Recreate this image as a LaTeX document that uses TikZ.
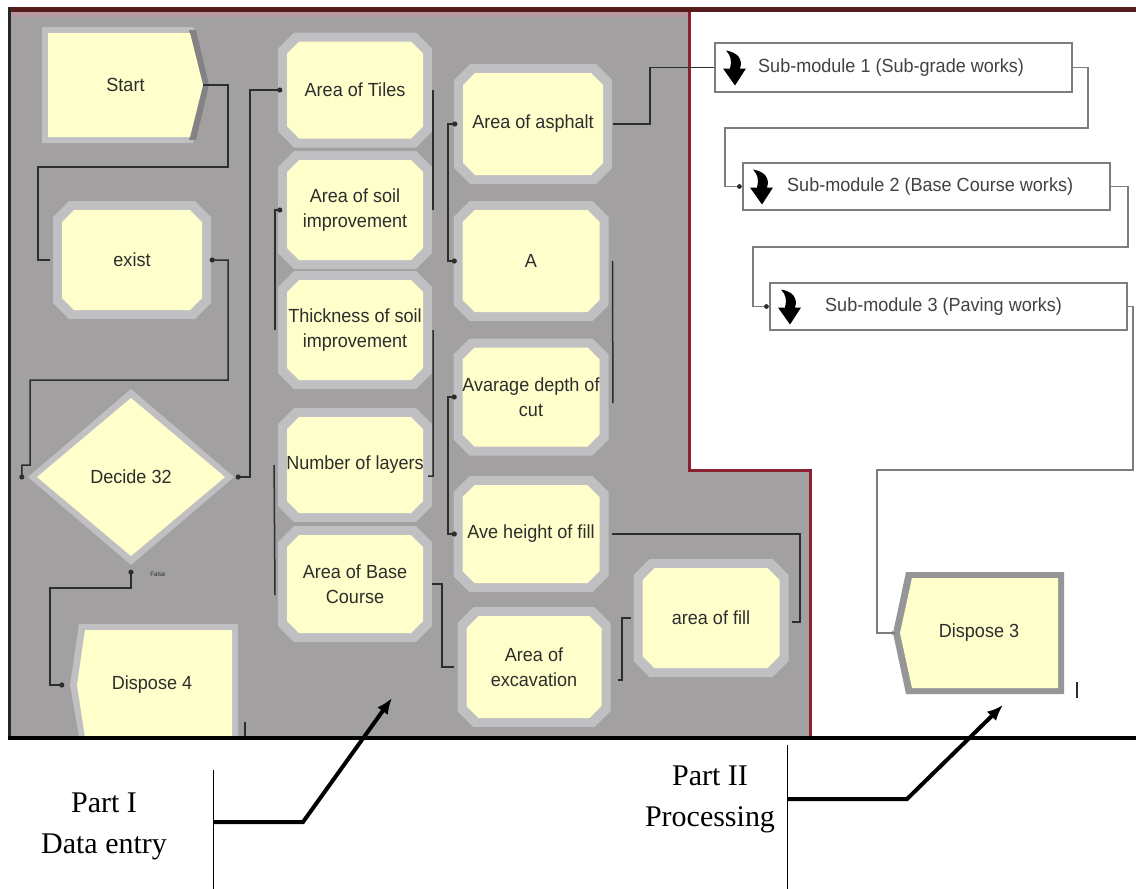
\documentclass[tikz,border=0pt]{standalone}
\usepackage{fontspec}
\usetikzlibrary{arrows.meta}
\newfontfamily\arenafont{Liberation Sans}[FakeStretch=0.95]
\newfontfamily\capfont{Liberation Serif}
\definecolor{panel}{RGB}{163,160,162}
\definecolor{rim}{RGB}{192,191,194}
\definecolor{rimdark}{RGB}{132,130,133}
\definecolor{yel}{RGB}{255,255,203}
\definecolor{ink}{RGB}{45,45,45}
\definecolor{maroon}{RGB}{140,32,48}
\definecolor{topband}{RGB}{85,28,30}
\definecolor{pinkband}{RGB}{186,152,162}
\definecolor{wiregray}{RGB}{125,125,125}
\definecolor{disprim}{RGB}{150,150,152}

% octagon fill: style, cx, cy, half width, half height, chamfer
\newcommand\octfill[6]{%
  \fill[#1] ({#2-(#4)+#6},{#3-(#5)}) -- ({#2+(#4)-#6},{#3-(#5)}) -- ({#2+(#4)},{#3-(#5)+#6})
    -- ({#2+(#4)},{#3+(#5)-#6}) -- ({#2+(#4)-#6},{#3+(#5)}) -- ({#2-(#4)+#6},{#3+(#5)})
    -- ({#2-(#4)},{#3+(#5)-#6}) -- ({#2-(#4)},{#3-(#5)+#6}) -- cycle;}
% process module: name, cx, cy, width, height, label
\newcommand\proc[6]{%
  \octfill{rim}{#2}{#3}{#4/2+9}{#5/2+9}{16}
  \octfill{yel}{#2}{#3}{#4/2}{#5/2}{12}
  \node[lbl, minimum width=#4pt, minimum height=#5pt] (#1) at (#2,#3) {#6};}

\tikzset{
  subicon/.pic={
    \fill[black] (-8,-17) .. controls (4,-15) and (9,-8) .. (6,1) -- (12,1) -- (1,18) -- (-11,1)
      -- (-4,1) .. controls (-2,-6) and (-3,-12) .. (-8,-17) -- cycle;
  }
}

\begin{document}
\begin{tikzpicture}[x=1pt,y=-1pt,
  lbl/.style={font=\arenafont\fontsize{19}{25}\selectfont, text=ink, align=center, inner sep=0pt},
  link/.style={draw=ink, line width=1.5pt},
  wire/.style={draw=wiregray, line width=1.1pt},
  pointer/.style={line width=4pt, line join=miter, -{Latex[length=16pt,width=13pt]}},
  parttext/.style={font=\capfont\fontsize{30}{41}\selectfont, align=center, inner sep=0pt},
  subbox/.style={draw=wiregray, line width=1.2pt, fill=white, inner sep=0pt},
  sublbl/.style={font=\arenafont\fontsize{19}{22}\selectfont, text=ink!90, anchor=west, inner sep=0pt}]
\useasboundingbox (0,0) rectangle (1136,889);
\fill[white] (0,0) rectangle (1136,889);

% ---- data entry panel ----
\fill[panel] (10,12) -- (689,12) -- (689,470) -- (810,470) -- (810,738) -- (10,738) -- cycle;
\fill[pinkband] (10,12) rectangle (689,17);
\fill[topband] (8,7) rectangle (1136,12);
\fill[black!85] (8,7) rectangle (11,740);
\draw[maroon, line width=3pt] (689,12) -- (689,470) -- (810,470) -- (810,738);

% Start (create module)
\fill[rim] (42,27) -- (193,27) -- (209,85) -- (193,143) -- (42,143) -- cycle;
\fill[rimdark] (189,30) -- (196,30) -- (209,85) -- (196,140) -- (189,140) -- (202,85) -- cycle;
\fill[yel] (48,33) -- (190,33) -- (203,85) -- (190,137) -- (48,137) -- cycle;
\node[lbl, minimum width=155pt, minimum height=104pt] (start) at (125.5,85) {Start};

% Decide
\fill[rim] (28,477) -- (131,389) -- (234,477) -- (131,565) -- cycle;
\fill[yel] (37,477) -- (131,398) -- (225,477) -- (131,556) -- cycle;
\node[lbl, minimum width=188pt, minimum height=158pt] (decide) at (131,477) {Decide 32};
\node[font=\arenafont\fontsize{6.5}{7}\selectfont, text=ink, inner sep=0pt] (falselbl) at (158,574) {False};

% Dispose 4
\fill[rim] (79,624) -- (238,624) -- (238,737) -- (79,737) -- (70,685) -- cycle;
\fill[yel] (85,630) -- (232,630) -- (232,737) -- (85,737) -- (77,685) -- cycle;
\node[lbl, minimum width=150pt, minimum height=110pt] (d4) at (152,685) {Dispose 4};

% process modules
\proc{exist}{132}{260}{140}{100}{exist}
\proc{tiles}{355}{90}{136}{97}{Area of Tiles}
\proc{soil}{355}{210}{136}{100}{Area of soil\\improvement}
\proc{thick}{355}{330}{136}{100}{Thickness of soil\\improvement}
\proc{layers}{355}{465}{136}{96}{Number of layers}
\proc{base}{355}{584}{136}{98}{Area of Base\\Course}
\proc{asph}{533}{124}{140}{102}{Area of asphalt}
\proc{A}{531}{261}{137}{102}{A}
\proc{depth}{531}{397}{137}{99}{Avarage depth of\\cut}
\proc{fillh}{531}{534}{137}{98}{Ave height of fill}
\proc{exc}{534}{667}{135}{102}{Area of\\excavation}
\proc{afill}{711}{618}{137}{100}{area of fill}

% connectors of the data entry part
\draw[link] (start.east) -- (228,85) -- (228,167) -- (38,167) -- (38,260) -- ([xshift=-12pt]exist.west);
\draw[link] ([xshift=10pt]exist.east) -- (228,260) -- (228,380) -- (30,380) -- (30,465) -- (22,465) -- ([xshift=-15pt]decide.west);
\fill[ink] ([xshift=10pt]exist.east) circle (2.6);
\fill[ink] ([xshift=-15pt]decide.west) circle (2.6);
\draw[link] ([xshift=13pt]decide.east) -- (250,477) -- (250,90) -- ([xshift=-7pt]tiles.west);
\fill[ink] ([xshift=13pt]decide.east) circle (2.6);
\fill[ink] ([xshift=-7pt]tiles.west) circle (2.6);
\draw[link] ([yshift=-16pt]decide.south) -- (131,588) -- (50,588) -- (50,685) -- ([xshift=-15pt]d4.west);
\fill[ink] ([yshift=-16pt]decide.south) circle (2.6);
\fill[ink] ([xshift=-15pt]d4.west) circle (2.6);

\draw[link] ([xshift=-7pt]soil.west) -- (275,210) -- (275,330);
\fill[ink] ([xshift=-7pt]soil.west) circle (2.6);
\draw[link] ([xshift=-12pt]layers.west) -- (275,595);
\draw[link] ([xshift=10pt]tiles.east) -- ([xshift=10pt]soil.east);
\draw[link] ([xshift=10pt]thick.east) -- (433,476) -- (428,476);

\draw[link] ([xshift=-8pt]asph.west) -- (448,124) -- (448,261) -- ([xshift=-8pt]A.west);
\fill[ink] ([xshift=-8pt]asph.west) circle (2.6);
\fill[ink] ([xshift=-8pt]A.west) circle (2.6);
\draw[link] ([xshift=-8pt]depth.west) -- (448,397) -- (448,534) -- ([xshift=-8pt]fillh.west);
\fill[ink] ([xshift=-8pt]depth.west) circle (2.6);
\fill[ink] ([xshift=-8pt]fillh.west) circle (2.6);
\draw[link] ([xshift=13pt]A.east) -- ([xshift=13pt,yshift=-6pt]depth.east);

\draw[link] ([xshift=12pt]fillh.east) -- (800,534) -- (800,622) -- ([xshift=12pt,yshift=-4pt]afill.east);
\draw[link] ([xshift=9pt]base.east) -- (442,584) -- (442,667) -- ([xshift=-12pt]exc.west);
\draw[link] ([xshift=16pt,yshift=-13pt]exc.east) -- (622,680) -- (622,618) -- ([xshift=-11pt]afill.west);

\draw[ink, line width=2pt] (245,722) -- (245,736);

% ---- processing part ----
\node[subbox, minimum width=357pt, minimum height=49pt] (sm1) at (893.5,67.5) {};
\node[subbox, minimum width=367pt, minimum height=47pt] (sm2) at (926.5,186.5) {};
\node[subbox, minimum width=357pt, minimum height=47pt] (sm3) at (948.5,306.5) {};
\pic at (734,67.5) {subicon};
\pic at (761,186.5) {subicon};
\pic at (789,306.5) {subicon};
\node[sublbl] (sm1lbl) at (758,67.5) {Sub-module 1 (Sub-grade works)};
\node[sublbl] (sm2lbl) at (787,186.5) {Sub-module 2 (Base Course works)};
\node[sublbl] (sm3lbl) at (825,306.5) {Sub-module 3 (Paving works)};

% Dispose 3
\fill[disprim] (906,572) -- (1064,572) -- (1064,694) -- (906,694) -- (893,633) -- cycle;
\fill[yel] (912,578) -- (1058,578) -- (1058,688) -- (912,688) -- (900,633) -- cycle;
\node[lbl, minimum width=158pt, minimum height=110pt] (d3) at (979,633) {Dispose 3};
\draw[ink, line width=1.6pt] (1077,682) -- (1077,698);

\draw[link] ([xshift=10pt]asph.east) -- (650,124) -- (650,67.5) -- (sm1.west);
\draw[wire] (sm1.east) -- (1088,67.5) -- (1088,128) -- (725,128) -- (725,186.5) -- (sm2.west);
\fill[ink] ([xshift=-3pt]sm2.west) circle (2.4);
\draw[wire] (sm2.east) -- (1128,186.5) -- (1128,247) -- (753,247) -- (753,306.5) -- (sm3.west);
\fill[ink] ([xshift=-3pt]sm3.west) circle (2.4);
\draw[wire, -{Latex[length=5pt,width=4pt]}] (sm3.east) -- (1133,306.5) -- (1133,470) -- (877,470) -- (877,633) -- ([xshift=-3pt]d3.west);

\fill[black] (8,736) rectangle (1136,740);

% ---- part labels ----
\node[parttext] (part1) at (104,826) {Part I\\Data entry};
\node[parttext] (part2) at (710,799) {Part II\\Processing};
\draw[line width=0.8pt] (213,770) -- (213,889);
\draw[line width=0.8pt] (787,745) -- (787,889);
\coordinate (tip1) at (392,698);
\coordinate (tip2) at (1003,705);
\draw[pointer] (214,822) -- (303,822) -- (tip1);
\draw[pointer] (788,799) -- (907,799) -- (tip2);
\end{tikzpicture}
\end{document}
